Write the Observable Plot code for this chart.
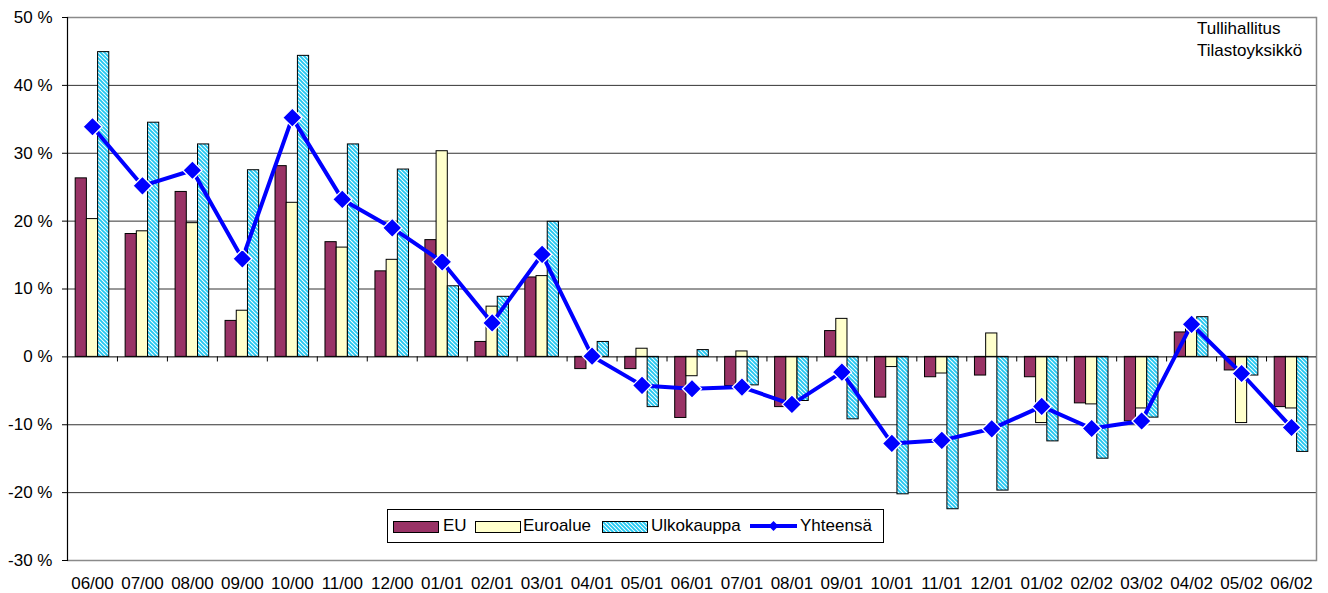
<!DOCTYPE html>
<html>
<head>
<meta charset="utf-8">
<script src="https://cdn.jsdelivr.net/npm/d3@7"></script>
<script src="https://cdn.jsdelivr.net/npm/@observablehq/plot@0.6"></script>
<style>
  html, body { margin: 0; padding: 0; background: #fff; }
  #wrap { position: relative; width: 1328px; height: 593px; font-family: "Liberation Sans", Arial, sans-serif; font-size: 17px; color: #000; }
  #note { position: absolute; left: 1197px; top: 18px; line-height: 22px; }
  #legend { position: absolute; left: 387px; top: 509px; width: 495px; height: 32px; border: 1px solid #000; background: #fff; }
  .sw { position: absolute; top: 11px; width: 44px; height: 10px; border: 1px solid #000; }
  .lt { position: absolute; top: 6px; line-height: 20px; }
</style>
</head>
<body>
<div id="wrap"></div>
<script>
const months = ["06/00","07/00","08/00","09/00","10/00","11/00","12/00","01/01","02/01","03/01","04/01","05/01","06/01","07/01","08/01","09/01","10/01","11/01","12/01","01/02","02/02","03/02","04/02","05/02","06/02"];
const eu =         [26.3, 18.1, 24.3,  5.3, 28.1, 16.9, 12.6, 17.2,  2.2, 11.7, -1.8, -1.8, -9.0, -4.3, -7.4,  3.8,  -6.0,  -3.0,  -2.75,  -3.0,  -6.85, -9.5, 3.6, -2.0,  -7.4];
const euroalue =   [20.3, 18.5, 19.7,  6.8, 22.7, 16.1, 14.3, 30.3,  7.4, 11.9,  0.2,  1.2, -2.85, 0.8, -7.0,  5.6,  -1.5,  -2.45,  3.45,  -9.75, -7.0, -7.6, 4.3, -9.75, -7.6];
const ulkokauppa = [44.9, 34.5, 31.3, 27.5, 44.35,31.3, 27.6, 10.4,  8.85,19.9,  2.2, -7.4,  1.0, -4.2, -6.5, -9.2, -20.25,-22.45,-19.7, -12.45,-15.0, -8.95,5.85,-2.75,-14.0];
const yhteensa =   [33.9, 25.2, 27.5, 14.45,35.25,23.2, 19.0, 14.0,  5.0, 15.1,  0.1, -4.2, -4.7, -4.45,-7.0, -2.25,-12.75,-12.3, -10.6,  -7.3, -10.55,-9.45,4.8, -2.45,-10.4];
const yTicks = [-30, -20, -10, 0, 10, 20, 30, 40, 50];
const seriesNames = ["EU", "Euroalue", "Ulkokauppa", "Yhteensä"];

const W = 1328, H = 593, mL = 67, mR = 12, mT = 17, mB = 33;
const bw = (W - mL - mR) / months.length;
const barW = 11.2;
const off = (bw - 3 * barW) / 2;

const rows = months.map((m, i) => ({m, eu: eu[i], euro: euroalue[i], ulko: ulkokauppa[i], tot: yhteensa[i]}));
const inset = k => ({insetLeft: off + k * barW, insetRight: bw - off - (k + 1) * barW});

const plot = Plot.plot({
  width: W, height: H,
  marginLeft: mL, marginRight: mR, marginTop: mT, marginBottom: mB,
  style: {fontFamily: "'Liberation Sans', Arial, sans-serif", fontSize: "17px", color: "#000", background: "#fff"},
  x: {type: "band", domain: months, padding: 0, round: false, label: null},
  y: {domain: [-30, 50], label: null},
  marks: [
    Plot.ruleY(yTicks.filter(d => d > -30 && d < 50 && d !== 0), {stroke: "#333", strokeOpacity: 1, strokeWidth: 1}),
    Plot.ruleY([-30, 50], {stroke: "#8a8a8a", strokeWidth: 1.5}),
    Plot.frame({anchor: "right", stroke: "#8a8a8a", strokeWidth: 1.5}),
    Plot.barY(rows, {x: "m", y: "eu", fill: "#993366", stroke: "#000", strokeWidth: 1, ...inset(0)}),
    Plot.barY(rows, {x: "m", y: "euro", fill: "#FFFFCC", stroke: "#000", strokeWidth: 1, ...inset(1)}),
    Plot.barY(rows, {x: "m", y: "ulko", fill: "url(#hatch)", stroke: "#000", strokeWidth: 1, ...inset(2)}),
    Plot.ruleY([0], {stroke: "#000", strokeWidth: 1}),
    Plot.ruleX(months, {x: d => d, y1: 0, y2: -0.75, dx: -bw / 2, stroke: "#000", strokeWidth: 1}),
    Plot.frame({anchor: "left", stroke: "#000", strokeWidth: 1.2}),
    Plot.line(rows, {x: "m", y: "tot", stroke: "#0000FF", strokeWidth: 4, strokeLinejoin: "round"}),
    Plot.dot(rows, {x: "m", y: "tot", symbol: "diamond2", r: 8.6, fill: "#0000FF", stroke: "#fff", strokeWidth: 1.3}),
    Plot.axisY({ticks: yTicks, tickFormat: d => d + " %", tickSize: 5, tickPadding: 10, label: null}),
    Plot.axisX({tickSize: 0, tickPadding: 16, label: null})
  ]
});

// hatch pattern for Ulkokauppa
const svgNS = "http://www.w3.org/2000/svg";
const defs = document.createElementNS(svgNS, "defs");
defs.innerHTML = `<pattern id="hatch" patternUnits="userSpaceOnUse" width="4" height="4">
  <rect width="4" height="4" fill="#ffffff"/>
  <path d="M-1,-1 L5,5 M-1,3 L1,5 M3,-1 L5,1" stroke="#22C8F2" stroke-width="1.9"/>
</pattern>`;
plot.insertBefore(defs, plot.firstChild);

const wrap = document.getElementById("wrap");
wrap.appendChild(plot);

const note = document.createElement("div");
note.id = "note";
note.innerHTML = "Tullihallitus<br>Tilastoyksikkö";
wrap.appendChild(note);

const legend = document.createElement("div");
legend.id = "legend";
const hatchSvg = `<svg width="44" height="10" style="display:block"><defs><pattern id="hatch2" patternUnits="userSpaceOnUse" width="4" height="4"><rect width="4" height="4" fill="#fff"/><path d="M-1,-1 L5,5 M-1,3 L1,5 M3,-1 L5,1" stroke="#22C8F2" stroke-width="1.9"/></pattern></defs><rect width="44" height="10" fill="url(#hatch2)"/></svg>`;
legend.innerHTML = `
  <div class="sw" style="left:5px;background:#993366"></div>
  <div class="lt" style="left:55px">${seriesNames[0]}</div>
  <div class="sw" style="left:87px;background:#FFFFCC"></div>
  <div class="lt" style="left:135px">${seriesNames[1]}</div>
  <div class="sw" style="left:214px">${hatchSvg}</div>
  <div class="lt" style="left:263px">${seriesNames[2]}</div>
  <svg style="position:absolute;left:362px;top:8px" width="48" height="16">
    <line x1="0" y1="8" x2="47" y2="8" stroke="#0000FF" stroke-width="4"/>
    <path d="M23.5,3 L28.5,8 L23.5,13 L18.5,8 Z" fill="#0000FF"/>
  </svg>
  <div class="lt" style="left:412px">${seriesNames[3]}</div>`;
wrap.appendChild(legend);
</script>
</body>
</html>
